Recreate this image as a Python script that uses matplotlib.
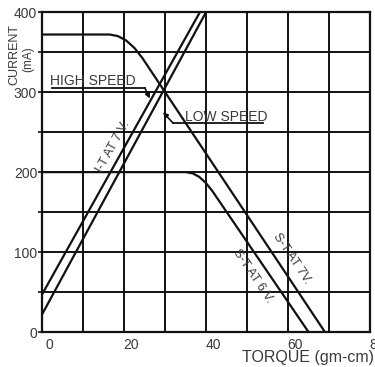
import matplotlib
matplotlib.use("Agg")
import matplotlib.pyplot as plt
import matplotlib.transforms as mtransforms
import numpy as np

plt.rcParams['font.family'] = ['Liberation Sans', 'DejaVu Sans']

# speed-torque curves (torque gm-cm, current mA)
st7_torque = [0, 16.5, 18.5, 20.5, 22.5, 24.5, 69]
st7_current = [372, 372, 370, 364.6, 355.4, 342.4, 0]
st6_torque = [0, 35, 36.7, 38.3, 39.9, 41.5, 65]
st6_current = [200, 200, 198.5, 194.2, 186.8, 176.6, 0]

# current-torque lines
it_high_torque = [0, 38.5]
it_high_current = [47, 400]
it_low_torque = [0, 40]
it_low_current = [22, 400]

xticks = [0, 20, 40, 60, 80]
yticks = [0, 100, 200, 300, 400]

ink = '#111111'
txt = '#3a3a3a'

fig = plt.figure(figsize=(3.75, 3.67), dpi=100)
ax = fig.add_axes([0.112, 0.095, 0.875, 0.872])

for t, c in [(st7_torque, st7_current), (st6_torque, st6_current),
             (it_high_torque, it_high_current), (it_low_torque, it_low_current)]:
    ax.plot(t, c, color=ink, lw=1.6, solid_capstyle='butt',
            solid_joinstyle='round', zorder=3)

ax.set_xlim(0, 80)
ax.set_ylim(0, 400)
ax.set_xticks(np.arange(0, 81, 10))
ax.set_yticks(np.arange(0, 401, 50))
ax.set_xticklabels([str(v) if v in xticks else '' for v in range(0, 81, 10)],
                   fontsize=10, color=txt)
ax.set_yticklabels([str(v) if v in yticks else '' for v in range(0, 401, 50)],
                   fontsize=10, color=txt)
ax.tick_params(axis='x', length=0, pad=4)
ax.tick_params(axis='y', length=3, width=1.2, pad=0.5, color=ink)
off = mtransforms.ScaledTranslation(7 / 100, 0, fig.dpi_scale_trans)
for lab in ax.get_xticklabels():
    lab.set_transform(lab.get_transform() + off)

ax.grid(True, color=ink, lw=1.4)
ax.set_axisbelow(True)
for s in ax.spines.values():
    s.set_color(ink)
    s.set_linewidth(1.6)

# labels along lines
ax.text(17.3, 232, 'I-T AT 7 V.', rotation=61, ha='center', va='center',
        fontsize=9, color=txt, zorder=4)
ax.text(61, 92, 'S-T AT 7V.', rotation=-56, ha='center', va='center',
        fontsize=9, color=txt, zorder=4)
ax.text(51.5, 70, 'S-T AT 6 V.', rotation=-56, ha='center', va='center',
        fontsize=9, color=txt, zorder=4)

# speed callouts
ax.text(2, 309, 'HIGH SPEED', fontsize=10, color=txt, ha='left', va='baseline')
ax.annotate('', xy=(26.3, 292), xytext=(25.1, 305),
            arrowprops=dict(arrowstyle='-|>', color=ink, lw=1.2, mutation_scale=7,
                            shrinkA=0, shrinkB=0))
ax.plot([2.4, 25.1], [305, 305], color=ink, lw=1.3)

ax.text(34.9, 264, 'LOW SPEED', fontsize=10, color=txt, ha='left', va='baseline')
ax.plot([32, 54], [261, 261], color=ink, lw=1.3)
ax.annotate('', xy=(29.5, 275), xytext=(32, 261),
            arrowprops=dict(arrowstyle='-|>', color=ink, lw=1.2, mutation_scale=7,
                            shrinkA=0, shrinkB=0))

# axis titles
fig.text(0.037, 0.852, 'CURRENT', rotation=90, ha='center', va='center',
         fontsize=9, color=txt)
fig.text(0.076, 0.840, '(mA)', rotation=90, ha='center', va='center',
         fontsize=8.5, color=txt)
fig.text(0.998, 0.025, 'TORQUE (gm-cm)', ha='right', va='center',
         fontsize=11.5, color=txt)

fig.savefig('out.png', dpi=100)
